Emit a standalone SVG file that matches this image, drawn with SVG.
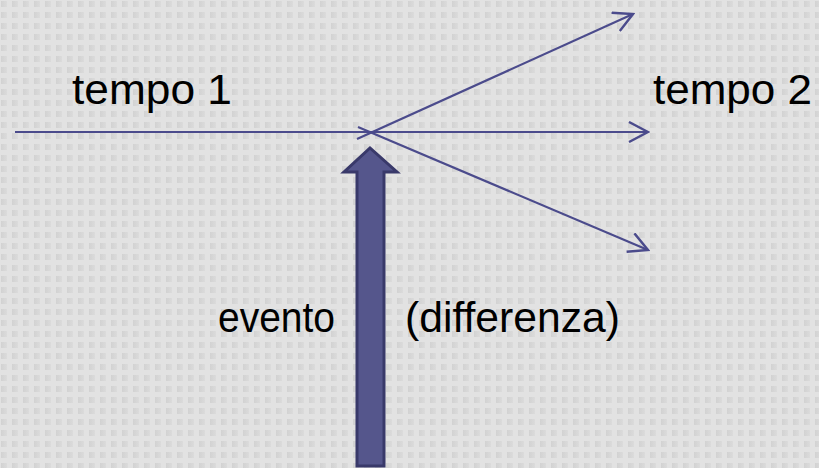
<svg xmlns="http://www.w3.org/2000/svg" width="819" height="468" viewBox="0 0 819 468">
  <style>
    .lbl { font-family: "Liberation Sans", Arial, sans-serif; font-size: 43px; fill: #000; }
    .conn { stroke: #4b4b8c; stroke-width: 2.2; fill: none; }
  </style>
  <defs>
    <linearGradient id="sq" x1="0" y1="0" x2="1" y2="0">
      <stop offset="0" stop-color="#d2d2d2"/>
      <stop offset="1" stop-color="#dbdbdb"/>
    </linearGradient>
    <pattern id="grid" x="1" y="1" width="11" height="11" patternUnits="userSpaceOnUse">
      <rect x="0" y="0" width="6" height="6" fill="url(#sq)"/>
    </pattern>
    <marker id="open" viewBox="0 0 22 22" refX="20" refY="11" markerWidth="22" markerHeight="22" markerUnits="userSpaceOnUse" orient="auto">
      <path d="M1,1 L20,11 L1,21" fill="none" stroke="#4b4b8c" stroke-width="2.4"/>
    </marker>
  </defs>
  <rect width="819" height="468" fill="#e2e2e2"/>
  <rect width="819" height="468" fill="url(#grid)"/>

  <g id="connectors">
    <line class="conn" x1="15" y1="132" x2="648" y2="132" marker-end="url(#open)"/>
    <line class="conn" x1="357" y1="139" x2="633" y2="14" marker-end="url(#open)"/>
    <line class="conn" x1="358" y1="127" x2="648" y2="250" marker-end="url(#open)"/>
  </g>

  <g id="evento-arrow">
    <path d="M357,466 V172 H344 L370,148 L397,172 H384 V466 Z" fill="#55568c" stroke="#39396a" stroke-width="3" stroke-linejoin="miter"/>
  </g>

  <g id="tempo1"><text class="lbl" x="72" y="104" textLength="160" lengthAdjust="spacingAndGlyphs">tempo 1</text></g>
  <g id="tempo2"><text class="lbl" x="653" y="104" textLength="159" lengthAdjust="spacingAndGlyphs">tempo 2</text></g>
  <g id="evento"><text class="lbl" x="218" y="332" textLength="117" lengthAdjust="spacingAndGlyphs">evento</text></g>
  <g id="differenza"><text class="lbl" x="405" y="332" textLength="215" lengthAdjust="spacingAndGlyphs">(differenza)</text></g>
</svg>
